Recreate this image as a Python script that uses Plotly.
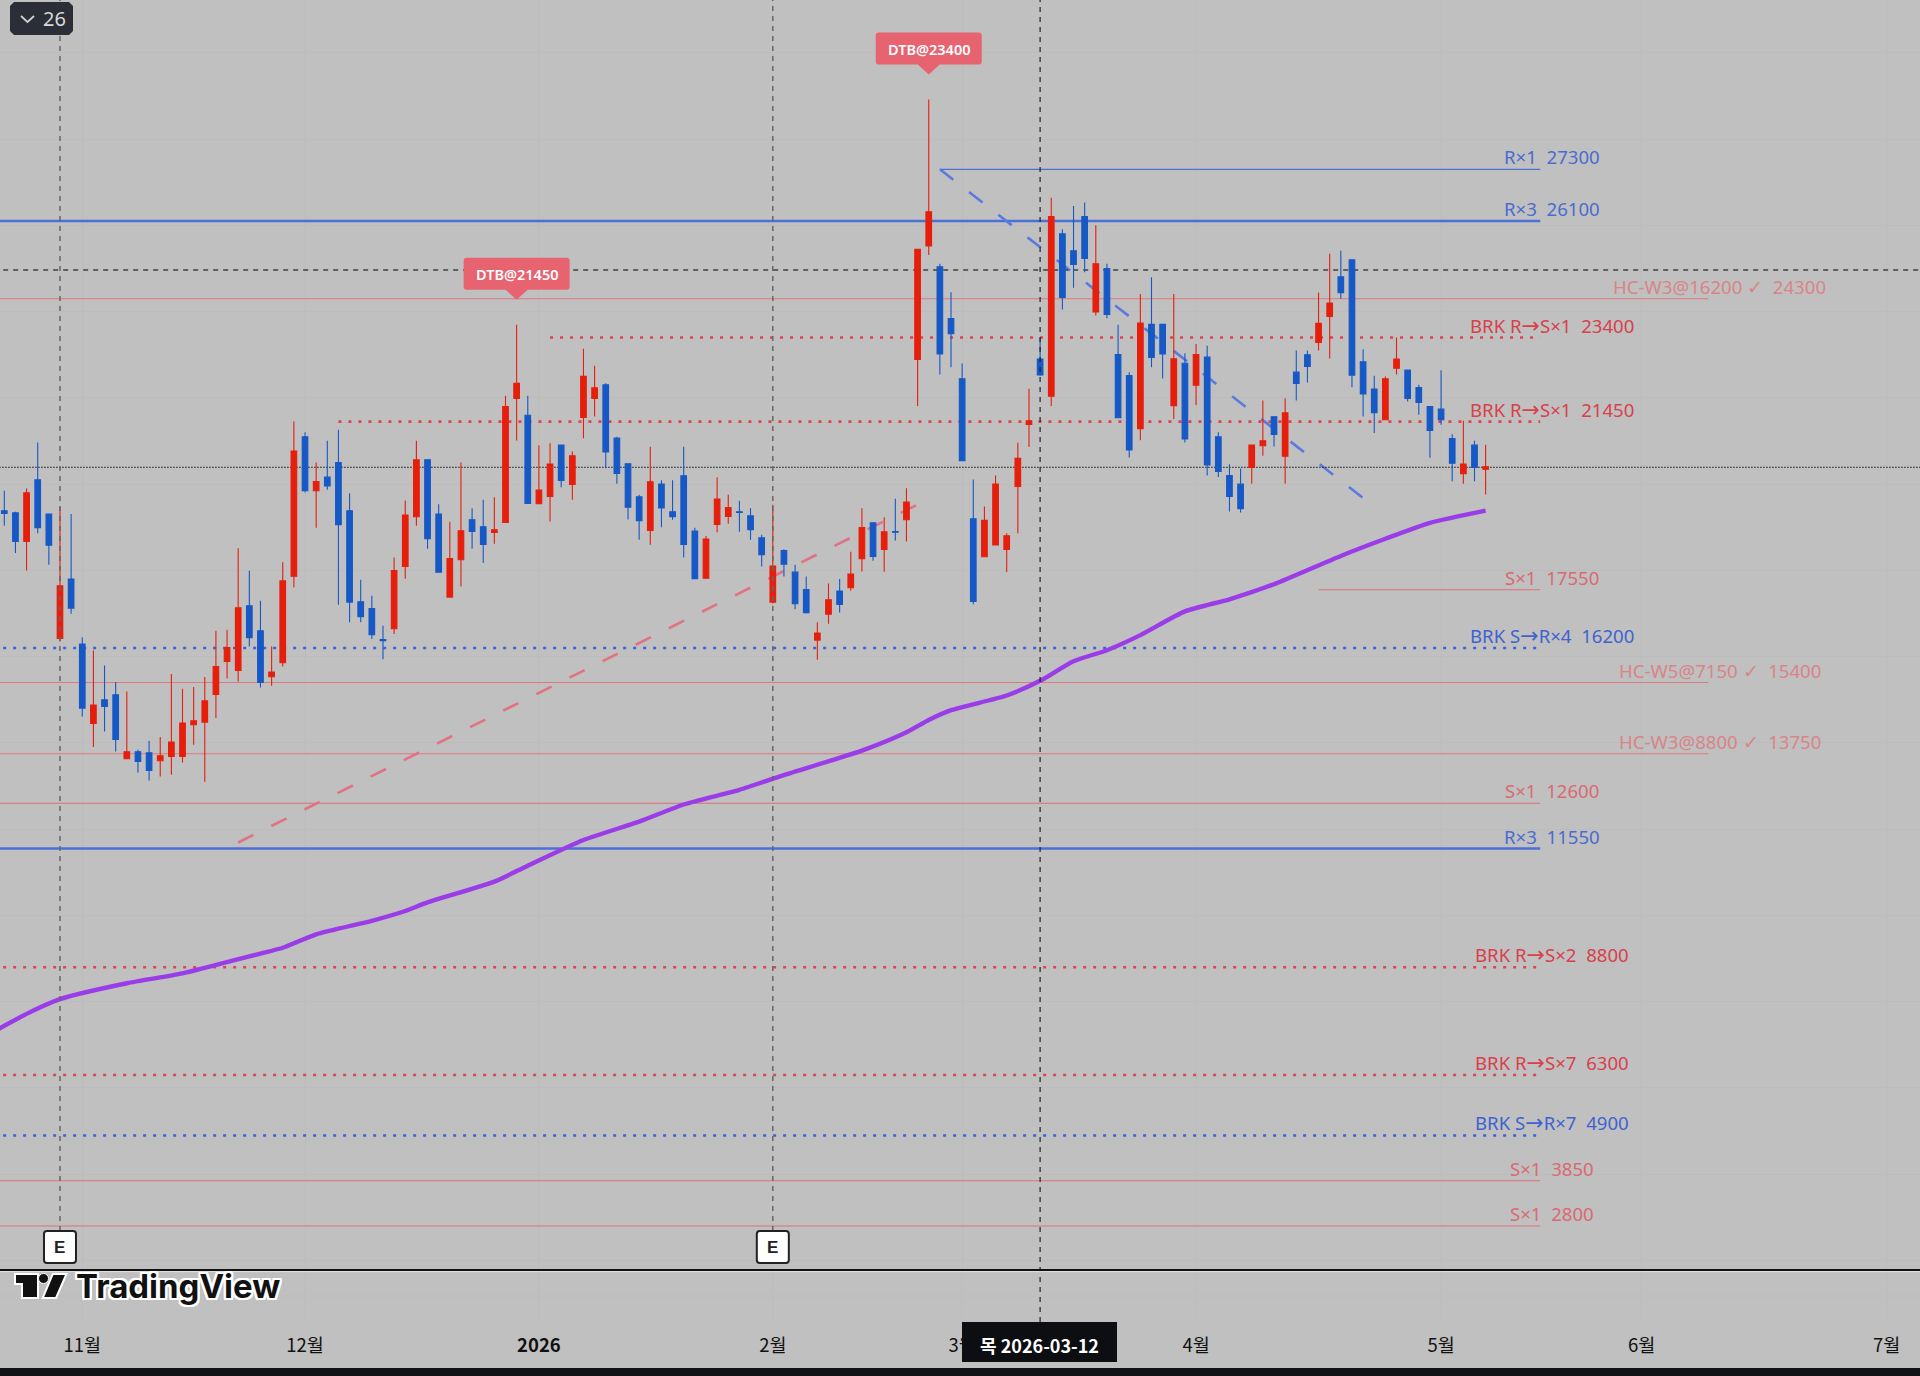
import plotly.graph_objects as go

# ---------- data ----------
# [open, high, low, close] for each bar; red bars rise, blue bars fall
opens = [19382,19336,18671,20101,19305,16422,17798,16291,14452,15001,15117,13633,13795,13772,13587,13687,13687,14421,14483,15124,
         15889,15681,17180,16600,15534,15858,17867,21097,19846,20162,20502,19382,17272,17118,16399,16647,18091,19243,20564,19305,
         17381,18246,19173,19011,18880,19111,21986,21599,19544,19714,20904,19992,21545,21986,22303,21066,20471,19706,18926,20000,
         19359,20193,18910,17821,19065,19250,19359,19266,18756,17265,18462,17960,17558,16384,16986,17520,17597,18269,19104,18485,
         18903,19173,22891,25525,25038,23841,22444,19195,18317,18589,18485,19946,21382,22899,22037,25805,25413,26204,23993,24998,
         23003,22516,21287,23705,23705,21821,22803,22292,22944,21098,20201,20000,20387,20889,21561,20649,22597,22998,23284,23887,
         24806,25201,22836,22202,21492,22689,22643,22241,21801,21739,21059,20240,20904,20348]
highs = [19846,19359,19900,20966,19305,19482,19305,16453,16144,15797,15410,15194,13842,14050,14135,15596,15256,15294,15526,16600,
         16623,18516,17991,17296,16237,18192,21460,21205,20502,21005,21260,19791,17782,17412,16716,18300,19621,21005,20564,19536,
         19127,20502,19444,19637,19699,22048,23693,22048,20904,20950,20904,20757,23137,22743,22341,21097,20487,19753,20865,20093,
         20093,20865,18988,18795,20162,19753,19614,19444,18825,19521,18493,18130,17860,16801,17697,17798,18431,19444,19111,19235,
         19660,19907,25445,28918,25110,24448,22795,20105,19483,20201,18860,20959,22213,23394,26643,25908,26451,26531,26004,25110,
         23697,22596,24408,24799,23705,24408,23035,23250,23207,21206,20464,20363,20912,21940,21569,21994,23099,23099,24443,25340,
         25409,25201,23130,22512,22496,23400,22651,22303,21801,22643,21159,21468,21005,20912]
lows = [19034,18401,17999,18864,18130,16353,16994,14614,13903,14267,13803,13633,13316,13131,13223,13262,13548,13958,13100,14576,
        15495,15426,16237,15287,15325,15773,17605,19807,18988,19869,17203,16801,16801,16407,15943,16523,17806,19034,18501,17960,
        17365,17628,18501,18169,18617,19111,21012,19552,19544,19135,19930,19637,21066,21569,20371,20008,19181,18710,18594,19003,
        19173,18300,17798,17813,18887,19080,18895,18710,18091,17234,17860,17102,17002,15928,16762,17025,17527,17975,18223,17968,
        18694,18671,21814,25310,22540,22708,20544,17216,18317,18589,17966,18860,20864,22516,21814,24048,24551,24911,23913,23849,
        21542,20616,21015,22708,22452,21510,20967,21837,20201,20163,19367,19343,20008,20657,20873,20008,21940,22357,23099,22913,
        24297,22249,21569,21183,21492,22542,21917,21608,20611,21376,20070,20008,20070,19761]
closes = [19320,18671,19799,18988,18586,17643,17126,14808,14877,14846,14081,13795,13571,13363,13703,14019,14460,14514,14978,15773,
          16214,17133,16438,15403,15642,17759,20765,19846,20062,19961,19057,17265,16925,16507,16368,17999,19281,20564,18733,17960,
          18277,18918,18903,18601,18941,21800,22341,19552,19861,20464,20085,20657,22503,22233,20749,20247,19467,19150,20054,19451,
          19243,18601,17806,18725,19652,19459,19343,18941,18362,18099,18145,17226,17017,16546,17319,17211,17914,18995,18323,18895,
          18887,19583,25445,26315,23019,23490,20544,17280,19163,20002,18804,20600,21470,22532,26204,24328,25094,25230,25110,23937,
          21542,20792,23737,22939,23019,22907,21047,23003,20448,20294,19714,19429,20904,21005,21152,21654,22334,22728,23732,24196,
          24436,22527,22094,21654,22442,22898,21986,21893,21244,21492,20487,20464,20387,20402]

level_values = [27300,26100,24300,23400,21450,17550,16200,15400,13750,12600,11550,8800,6300,4900,3850,2800]
level_names = ["R×1","R×3","HC-W3@16200 ✓","BRK R→S×1","BRK R→S×1","S×1","BRK S→R×4","HC-W5@7150 ✓",
               "HC-W3@8800 ✓","S×1","R×3","BRK R→S×2","BRK R→S×7","BRK S→R×7","S×1","S×1"]
level_kinds = ["r","R","h","b","b","s","d","h","h","s","R","b","b","d","s","s"]
level_first_bar = [84,-1,-1,49,30,118,-1,-1,-1,-1,-1,-1,-1,-1,-1,-1]

ma_bars = [-1,2,5,11,16,22,25,28,33,36,38,44,47,52,57,61,66,70,77,81,83,85,90,93,96,99,102,106,110,114,120,124,128,133]
ma_values = [7300,7718,8059,8428,8655,9052,9251,9563,9876,10103,10302,10784,11153,11749,12175,12573,12913,13254,13822,14248,
             14532,14759,15099,15440,15894,16150,16500,17050,17330,17680,18336,18733,19102,19386]

trend_up_bars = [21,82]
trend_up_values = [11692,19528]
trend_down_bars = [84,122]
trend_down_values = [27300,19679]

last_price = 20391
cursor_price = 24965
cursor_bar = 93
earnings_bars = [5,69]
callout_bars = [46,83]
callout_texts = ["DTB@21450","DTB@23400"]

tick_bars = [7,27,48,69,86,107,129,147,169]
tick_text = ["11월","12월","<b>2026</b>","2월","3월","4월","5월","6월","7월"]

# ---------- page geometry ----------
W, H = 1920, 1376
AXIS_PX = 1270
X = lambda px: px / W
Y = lambda py: 1 - py / H

def rrect(x0, y0, x1, y1, r):
    return (f"M {x0+r} {y0} L {x1-r} {y0} Q {x1} {y0} {x1} {y0+r} L {x1} {y1-r} Q {x1} {y1} {x1-r} {y1} "
            f"L {x0+r} {y1} Q {x0} {y1} {x0} {y1-r} L {x0} {y0+r} Q {x0} {y0} {x0+r} {y0} Z")

def paper_path(points):
    return "M " + " L ".join(f"{X(a):.5f} {Y(b):.5f}" for a, b in points) + " Z"

BLUE, RED = "#1558c6", "#e61e0c"
DOTS = "3px,7px"
STYLE = {
    "r": dict(color="#4c70d4", width=1.2),
    "R": dict(color="#4c70d8", width=2.5),
    "h": dict(color="#dc7a7e", width=1.1),
    "s": dict(color="#dc7078", width=1.1),
    "b": dict(color="#dc4450", width=2.6, dash=DOTS),
    "d": dict(color="#3c60d8", width=2.6, dash=DOTS),
}
TEXT_COLOR = {"r": "#4a6cd0", "R": "#4a6cd0", "h": "#d98488", "s": "#d96a72", "b": "#d8404c", "d": "#3f63d0"}
ARROW = "<span style='font-family:DejaVu Sans;font-size:22px'>→</span>"

fig = go.Figure()
shapes, notes = [], []

for v, name, kind, first in zip(level_values, level_names, level_kinds, level_first_bar):
    long_line = kind == "h"
    fig.add_trace(go.Scatter(x=[first, 153 if long_line else 137.9], y=[v, v], mode="lines",
                             line=STYLE[kind], hoverinfo="skip", showlegend=False, zorder=0))
    notes.append(dict(x=154 if long_line else 139, y=v, yshift=12.5, showarrow=False, xanchor="center", yanchor="middle",
                      text=f"{name.replace('→', ARROW)}\u00a0\u00a0{v}",
                      font=dict(family="Noto Sans", size=18.6, color=TEXT_COLOR[kind])))

fig.add_trace(go.Scatter(x=trend_up_bars, y=trend_up_values, mode="lines", hoverinfo="skip", showlegend=False, zorder=0,
                         line=dict(color="#e07284", width=2.6, dash="17px,20px")))
fig.add_trace(go.Scatter(x=trend_down_bars, y=trend_down_values, mode="lines", hoverinfo="skip", showlegend=False, zorder=0,
                         line=dict(color="#5a7ae0", width=2.6, dash="17px,20px")))
fig.add_trace(go.Scatter(x=[-0.1, 180], y=[cursor_price]*2, mode="lines", hoverinfo="skip", showlegend=False, zorder=0,
                         line=dict(color="#000000", width=1.1, dash="5px,5px")))
fig.add_trace(go.Scatter(x=[-1, 180], y=[last_price]*2, mode="lines", hoverinfo="skip", showlegend=False, zorder=0,
                         line=dict(color="#111111", width=1, dash="1.5px,1.5px")))
fig.add_trace(go.Scatter(x=ma_bars, y=ma_values, mode="lines", hoverinfo="skip", showlegend=False, zorder=0,
                         line=dict(color="#9a3de8", width=4.4, shape="spline", smoothing=0.6)))

fig.add_trace(go.Candlestick(x=list(range(len(opens))), open=opens, high=highs, low=lows, close=closes,
                             increasing=dict(line=dict(color=RED, width=1.1), fillcolor=RED),
                             decreasing=dict(line=dict(color=BLUE, width=1.1), fillcolor=BLUE),
                             whiskerwidth=0, showlegend=False, zorder=1))

# cursor verticals
for b in earnings_bars:
    shapes.append(dict(type="line", xref="x", yref="paper", x0=b, x1=b, y0=Y(1231), y1=1,
                       line=dict(color="#666666", width=1.5, dash="5px,5px")))
shapes.append(dict(type="line", xref="x", yref="paper", x0=cursor_bar, x1=cursor_bar, y0=Y(1322), y1=1,
                   line=dict(color="#222222", width=1.2, dash="5px,5px")))

# faint grid continuation below the axis
for b in tick_bars:
    shapes.append(dict(type="line", xref="x", yref="paper", x0=b, x1=b, y0=Y(1320), y1=Y(AXIS_PX),
                       line=dict(color="#bcbcbc", width=1), layer="below"))
shapes.append(dict(type="line", xref="paper", yref="paper", x0=0, x1=1, y0=Y(1296), y1=Y(1296),
                   line=dict(color="#bcbcbc", width=1), layer="below"))
# axis rule with its light edge
shapes.append(dict(type="line", xref="paper", yref="paper", x0=0, x1=1, y0=Y(1270), y1=Y(1270),
                   line=dict(color="#111111", width=2)))
shapes.append(dict(type="line", xref="paper", yref="paper", x0=0, x1=1, y0=Y(1271.6), y1=Y(1271.6),
                   line=dict(color="#e2e2e2", width=1)))

# DTB callouts
for b, t in zip(callout_bars, callout_texts):
    hi = highs[b]
    body = ("M 0 25 L -11 35 L -50 35 Q -53 35 -53 38 L -53 64 Q -53 67 -50 67 L 50 67 Q 53 67 53 64 "
            "L 53 38 Q 53 35 50 35 L 11 35 Z")
    shapes.append(dict(type="path", xref="x", yref="y", xsizemode="pixel", ysizemode="pixel",
                       xanchor=b, yanchor=hi, path=body, fillcolor="#e6636f", line=dict(width=0)))
    notes.append(dict(x=b, y=hi, yshift=51, showarrow=False, text=t, xanchor="center", yanchor="middle",
                      font=dict(family="Noto Sans", size=14.5, color="white", weight=600)))

# earnings markers
for b in earnings_bars:
    shapes.append(dict(type="path", xref="x", yref="paper", xsizemode="pixel", ysizemode="pixel",
                       xanchor=b, yanchor=Y(1247), path=rrect(-16, -16, 16, 16, 3),
                       fillcolor="white", line=dict(color="#222222", width=2)))
    notes.append(dict(x=b, xref="x", yref="paper", y=Y(1247), showarrow=False, text="<b>E</b>",
                      xanchor="center", yanchor="middle",
                      font=dict(family="Liberation Sans", size=17, color="#222222")))

# interval pill, top left
shapes.append(dict(type="path", xref="paper", yref="paper",
                   path="M " + " L ".join(f"{X(a):.5f} {Y(b):.5f}" for a, b in
                        [(14,2),(69,2),(73,6),(73,31),(69,35),(14,35),(10,31),(10,6)]) + " Z",
                   fillcolor="#2b2e36", line=dict(width=0)))
shapes.append(dict(type="path", xref="paper", yref="paper",
                   path="M " + " L ".join(f"{X(a):.5f} {Y(b):.5f}" for a, b in [(21,16),(27.5,22),(34,16)]),
                   line=dict(color="#d0d0d0", width=1.8)))
notes.append(dict(xref="paper", yref="paper", x=X(54), y=Y(18.5), showarrow=False, text="26",
                  xanchor="center", yanchor="middle", font=dict(family="Noto Sans", size=20, color="#d8d8d8")))

# TradingView mark
for pts in ([(15,1274),(38,1274),(38,1298),(22,1298),(22,1284),(15,1284)],
            [(52.7,1274),(66.5,1274),(56,1298),(42.7,1298)]):
    shapes.append(dict(type="path", xref="paper", yref="paper", path=paper_path(pts),
                       fillcolor="#111111", line=dict(color="white", width=2)))
shapes.append(dict(type="circle", xref="paper", yref="paper", x0=X(38.5), x1=X(48.5), y0=Y(1273.5), y1=Y(1283.5),
                   fillcolor="#111111", line=dict(color="white", width=1)))
outline = ",".join(f"white {a}px {b}px 0" for a in (-2,-1,0,1,2) for b in (-2,-1,0,1,2))
notes.append(dict(xref="paper", yref="paper", x=X(74), y=Y(1286), showarrow=False, text="<b>TradingView</b>",
                  xanchor="left", yanchor="middle",
                  font=dict(family="Inter", size=33, color="#111111", shadow=outline)))

# bottom strip and cursor date
shapes.append(dict(type="rect", xref="paper", yref="paper", x0=0, x1=1, y0=0, y1=Y(1368),
                   fillcolor="#111216", line=dict(width=0)))
shapes.append(dict(type="rect", xref="paper", yref="paper", x0=X(962), x1=X(1117), y0=Y(1362), y1=Y(1322),
                   fillcolor="#0d0e12", line=dict(width=0)))
notes.append(dict(xref="paper", yref="paper", x=X(1039.5), y=Y(1345), showarrow=False, text="<b>목 2026-03-12</b>",
                  xanchor="center", yanchor="middle",
                  font=dict(family="Noto Sans CJK KR", size=18, color="white")))

fig.update_layout(
    width=W, height=H, margin=dict(l=0, r=0, t=0, b=0, pad=0),
    paper_bgcolor="#c0c0c0", plot_bgcolor="#c0c0c0", showlegend=False, boxgap=0.28,
    shapes=shapes, annotations=notes, hovermode=False,
    xaxis=dict(range=[-0.386, 172.0], domain=[0, 1], rangeslider=dict(visible=False), tickmode="array",
               tickvals=tick_bars, ticktext=tick_text, ticks="", ticklabelstandoff=62,
               tickfont=dict(family="Noto Sans CJK KR", size=18.5, color="#111111"),
               showgrid=True, gridcolor="#bcbcbc", gridwidth=1, zeroline=False, showline=False),
    yaxis=dict(range=[1780, 31225], domain=[1 - AXIS_PX / H, 1], dtick=2000, tick0=0,
               showgrid=True, gridcolor="#bcbcbc", gridwidth=1, zeroline=False,
               showticklabels=False, ticks="", showline=False),
)

fig.write_html("out.html", config=dict(displayModeBar=False),
               post_script="document.body.style.margin='0';document.body.style.overflow='hidden';")
